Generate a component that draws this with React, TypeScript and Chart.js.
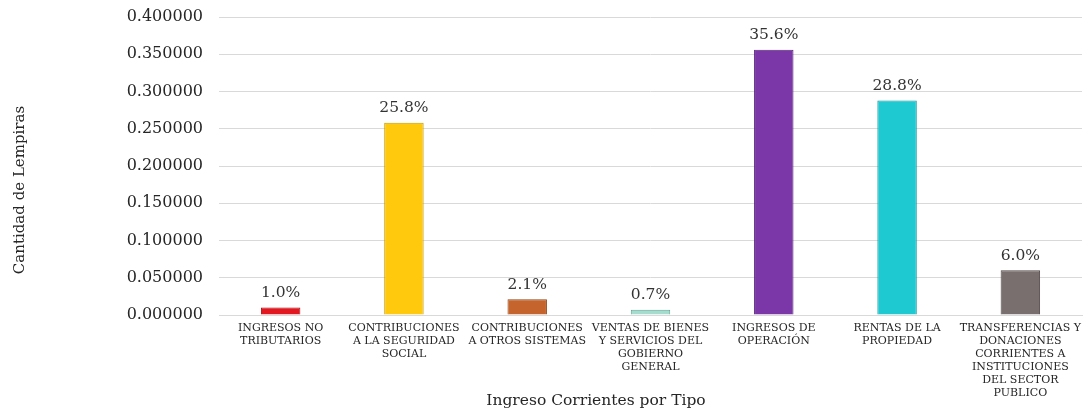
import React, { useEffect, useRef } from "react";
import { Chart, registerables } from "chart.js";

Chart.register(...registerables);

const categories: string[][] = [
  ["INGRESOS NO", "TRIBUTARIOS"],
  ["CONTRIBUCIONES", "A LA SEGURIDAD", "SOCIAL"],
  ["CONTRIBUCIONES", "A OTROS SISTEMAS"],
  ["VENTAS DE BIENES", "Y SERVICIOS DEL", "GOBIERNO", "GENERAL"],
  ["INGRESOS DE", "OPERACIÓN"],
  ["RENTAS DE LA", "PROPIEDAD"],
  ["TRANSFERENCIAS Y", "DONACIONES", "CORRIENTES A", "INSTITUCIONES", "DEL SECTOR", "PUBLICO"],
];

const values: number[] = [0.01, 0.258, 0.021, 0.007, 0.356, 0.288, 0.06];

const barColors: string[] = ["#e3171f", "#ffc90d", "#c6642d", "#a6dccd", "#7b36a8", "#1ec9d1", "#7a6f6f"];
const barBorders: string[] = ["#a50f14", "#c99c00", "#8e4519", "#5ea595", "#56237a", "#11979e", "#524848"];

const yTitle = "Cantidad de Lempiras";
const xTitle = "Ingreso Corrientes por Tipo";

const SERIF = "'DejaVu Serif', 'Liberation Serif', serif";

const valueLabels = {
  id: "valueLabels",
  afterDatasetsDraw(chart: any) {
    const ctx = chart.ctx;
    const meta = chart.getDatasetMeta(0);
    ctx.save();
    ctx.font = `15.5px ${SERIF}`;
    ctx.fillStyle = "#333333";
    ctx.textAlign = "center";
    ctx.textBaseline = "bottom";
    meta.data.forEach((bar: any, i: number) => {
      const v = values[i];
      ctx.fillText((v * 100).toFixed(1) + "%", bar.x, bar.y - 7);
    });
    ctx.restore();
  },
};

const axisTitles = {
  id: "axisTitles",
  afterDraw(chart: any) {
    const ctx = chart.ctx;
    ctx.save();
    ctx.fillStyle = "#262626";
    ctx.textAlign = "center";
    ctx.textBaseline = "middle";
    ctx.font = `15.5px ${SERIF}`;
    ctx.fillText(xTitle, 596, 401);
    ctx.translate(20, 190);
    ctx.rotate(-Math.PI / 2);
    ctx.font = `15px ${SERIF}`;
    ctx.fillText(yTitle, 0, 0);
    ctx.restore();
  },
};

export default function App() {
  const ref = useRef<HTMLCanvasElement | null>(null);

  useEffect(() => {
    document.body.style.margin = "0";
    if (!ref.current) return;
    const chart = new Chart(ref.current, {
      type: "bar",
      data: {
        labels: categories,
        datasets: [
          {
            data: values,
            backgroundColor: barColors,
            borderColor: barBorders,
            borderWidth: 1,
            barPercentage: 0.32,
            categoryPercentage: 1,
          },
        ],
      },
      options: {
        animation: false,
        responsive: false,
        maintainAspectRatio: false,
        layout: { padding: { top: 17, right: 6, left: 0, bottom: 0 } },
        plugins: {
          legend: { display: false },
          tooltip: { enabled: false },
        },
        scales: {
          x: {
            grid: { display: false, drawTicks: false },
            border: { display: true, color: "#d9d9d9" },
            ticks: {
              color: "#262626",
              font: { family: SERIF, size: 11, lineHeight: 1.18 },
              padding: 7,
              maxRotation: 0,
              autoSkip: false,
            },
            title: { display: false },
            afterFit(scale: any) {
              scale.height = 99;
              scale.paddingLeft = 0;
              scale.paddingRight = 0;
              scale.paddingTop = 0;
              scale.paddingBottom = 0;
            },
          },
          y: {
            min: 0,
            max: 0.4,
            ticks: {
              stepSize: 0.05,
              color: "#262626",
              font: { family: SERIF, size: 16 },
              padding: 16,
              callback: (v: any) => Number(v).toFixed(6),
            },
            grid: { color: "#d9d9d9", drawTicks: false },
            border: { display: false },
            title: { display: false },
            afterFit(scale: any) {
              scale.width = 219;
              scale.paddingTop = 0;
              scale.paddingBottom = 0;
              scale.paddingLeft = 0;
              scale.paddingRight = 0;
            },
          },
        },
      },
      plugins: [valueLabels, axisTitles],
    });
    return () => chart.destroy();
  }, []);

  return (
    <div style={{ position: "absolute", left: 0, top: 0, width: 1088, height: 414, background: "#fff" }}>
      <canvas ref={ref} width={1088} height={414} style={{ width: 1088, height: 414 }} />
    </div>
  );
}
